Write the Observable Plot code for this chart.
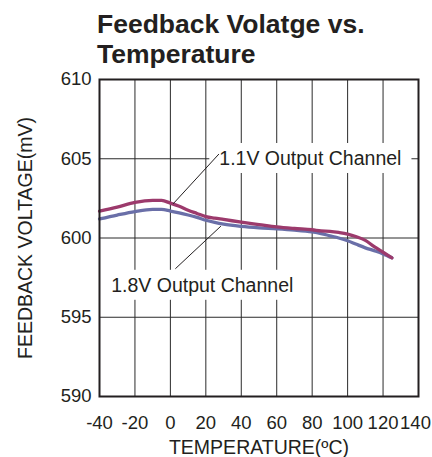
<!DOCTYPE html>
<html>
<head>
<meta charset="utf-8">
<script src="https://cdn.jsdelivr.net/npm/d3@7"></script>
<script src="https://cdn.jsdelivr.net/npm/@observablehq/plot@0.6"></script>
<style>
  html, body { margin: 0; padding: 0; background: #fff; }
  #wrap { position: relative; width: 432px; height: 457px; overflow: hidden; }
  #title { position: absolute; left: 97px; top: 9px; font: bold 26.5px/30px "Liberation Sans", Arial, sans-serif; color: #231f20; z-index: 2; white-space: nowrap; }
  #chart { position: absolute; left: 0; top: 0; }
</style>
</head>
<body>
<div id="wrap">
  <div id="title">Feedback Volatge vs.<br>Temperature</div>
  <div id="chart"></div>
</div>
<script>
const titleText = "Feedback Volatge vs. Temperature";
const xLabel = "TEMPERATURE(ºC)";
const yLabel = "FEEDBACK VOLTAGE(mV)";
const xTicks = [-40, -20, 0, 20, 40, 60, 80, 100, 120];
const xTickLast = [140];
const yTicks = [590, 595, 600, 605, 610];
const xGrid = [-20, 0, 20, 40, 60, 80, 100, 120];
const yGrid = [595, 600, 605];

const temps = [-40, -30, -20, -10, -5, 0, 5, 10, 15, 20, 25, 30, 40, 50, 60, 70, 80, 85, 90, 95, 100, 105, 110, 115, 120, 125];
const ch11 = [601.7, 601.95, 602.25, 602.38, 602.37, 602.2, 602.0, 601.75, 601.55, 601.35, 601.25, 601.17, 601.0, 600.85, 600.7, 600.6, 600.52, 600.45, 600.42, 600.35, 600.25, 600.08, 599.85, 599.45, 599.1, 598.75];
const ch18 = [601.2, 601.45, 601.67, 601.8, 601.8, 601.7, 601.58, 601.45, 601.3, 601.12, 600.98, 600.87, 600.73, 600.64, 600.58, 600.5, 600.38, 600.28, 600.14, 600.0, 599.83, 599.6, 599.38, 599.2, 599.0, 598.75];

const labelNames = ["1.1V Output Channel", "1.8V Output Channel"];
const labelX = [27.6, -33.4];
const labelY = [605.0, 597.0];
const leaderX1 = [1.5, 2.8];
const leaderY1 = [602.15, 598.06];
const leaderX2 = [27.4, 28.5];
const leaderY2 = [605.3, 600.75];

const s11 = temps.map((t, i) => ({t, v: ch11[i]}));
const s18 = temps.map((t, i) => ({t, v: ch18[i]}));
const labels = labelNames.map((name, i) => ({name, x: labelX[i], y: labelY[i]}));
const leaders = labelNames.map((name, i) => ({x1: leaderX1[i], y1: leaderY1[i], x2: leaderX2[i], y2: leaderY2[i]}));

const ink = "#231f20";
const font = "'Liberation Sans', Arial, Helvetica, sans-serif";

const plot = Plot.plot({
  width: 432,
  height: 457,
  marginLeft: 99,
  marginRight: 14,
  marginTop: 79,
  marginBottom: 61,
  style: {fontFamily: font, fontSize: "18.5px", color: ink, background: "transparent"},
  x: {domain: [-40, 140], label: null},
  y: {domain: [590, 610], label: null},
  marks: [
    Plot.ruleX(xGrid, {stroke: "#2b2b2b", strokeWidth: 1}),
    Plot.ruleY(yGrid, {stroke: "#2b2b2b", strokeWidth: 1}),
    Plot.line(s18, {x: "t", y: "v", stroke: "#6a6fa8", strokeWidth: 3.3, curve: "monotone-x"}),
    Plot.line(s11, {x: "t", y: "v", stroke: "#9c3a6c", strokeWidth: 3.3, curve: "monotone-x"}),
    Plot.link(leaders, {x1: "x1", y1: "y1", x2: "x2", y2: "y2", stroke: ink, strokeWidth: 1}),
    Plot.text(labels, {x: "x", y: "y", text: "name", textAnchor: "start", lineAnchor: "middle", fontSize: 19.5, fill: ink}),
    Plot.frame({stroke: ink, strokeWidth: 2}),
    Plot.axisX(xTicks, {tickSize: 0, tickPadding: 19, tickFormat: d => String(d), label: null, fill: ink}),
    Plot.axisX(xTickLast, {tickSize: 0, tickPadding: 19, tickFormat: d => String(d), label: null, fill: ink, dx: -3}),
    Plot.axisY(yTicks, {tickSize: 0, tickPadding: 8, tickFormat: d => String(d), label: null, fill: ink}),
    Plot.text([xLabel], {frameAnchor: "bottom", textAnchor: "middle", lineAnchor: "middle", dy: 51, fontSize: 19.5, fill: ink}),
    Plot.text([yLabel], {frameAnchor: "left", textAnchor: "middle", lineAnchor: "middle", dx: -74, rotate: -90, fontSize: 19.5, fill: ink})
  ]
});
document.getElementById("chart").appendChild(plot);

// white boxes behind the annotation labels (placed beneath the curves and leaders)
const svgRect = plot.getBoundingClientRect();
const firstLine = plot.querySelector('g[aria-label="line"]');
plot.querySelectorAll("text").forEach(t => {
  if (!labelNames.includes(t.textContent)) return;
  const b = t.getBoundingClientRect();
  const r = document.createElementNS("http://www.w3.org/2000/svg", "rect");
  r.setAttribute("x", b.left - svgRect.left - 10);
  r.setAttribute("y", b.top - svgRect.top - 4);
  r.setAttribute("width", b.width + 20);
  r.setAttribute("height", b.height + 8);
  r.setAttribute("fill", "white");
  firstLine.parentNode.insertBefore(r, firstLine);
});
</script>
</body>
</html>
